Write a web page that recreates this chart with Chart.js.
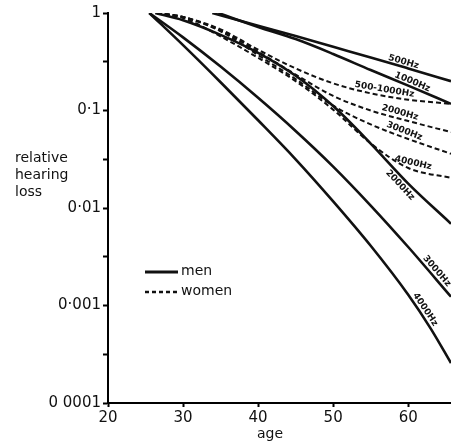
<!DOCTYPE html>
<html>
<head>
<meta charset="utf-8">
<script src="https://cdn.jsdelivr.net/npm/chart.js@4.4.1/dist/chart.umd.min.js"></script>
<style>
  html, body { margin: 0; padding: 0; background: #fff; }
  #wrap { position: relative; width: 451px; height: 443px; }
</style>
</head>
<body>
<div id="wrap"><canvas id="chart"></canvas></div>
<script>
// values: age (years) and relative hearing loss
const men500Ages = [33.9, 40, 45, 50, 55, 60, 65.7];
const men500Loss = [1, 0.74, 0.58, 0.45, 0.35, 0.27, 0.20];

const men1000Ages = [34.7, 40, 45, 50, 55, 60, 65.7];
const men1000Loss = [1, 0.72, 0.54, 0.38, 0.26, 0.18, 0.117];

const men2000Ages = [26.3, 30, 35, 40, 45, 50, 55, 60, 65.7];
const men2000Loss = [1, 0.843, 0.597, 0.390, 0.227, 0.111, 0.0458, 0.0178, 0.0069];

const men3000Ages = [25.5, 30, 35, 40, 45, 50, 55, 60, 65.7];
const men3000Loss = [1, 0.562, 0.282, 0.135, 0.0617, 0.0266, 0.0106, 0.00398, 0.00123];

const men4000Ages = [25.5, 30, 35, 40, 45, 50, 55, 60, 63, 65.7];
const men4000Loss = [1, 0.468, 0.195, 0.0794, 0.0316, 0.0117, 0.0041, 0.00129, 0.00058, 0.000257];

const womenAges = [26.5, 30, 35, 40, 45, 50, 55, 60, 65.7];
const women500to1000Loss = [1, 0.91, 0.68, 0.42, 0.27, 0.19, 0.15, 0.129, 0.117];
const women2000Loss = [1, 0.91, 0.66, 0.40, 0.234, 0.141, 0.10, 0.078, 0.060];
const women3000Loss = [1, 0.91, 0.65, 0.37, 0.21, 0.112, 0.072, 0.051, 0.036];
const women4000Loss = [1, 0.89, 0.575, 0.347, 0.20, 0.102, 0.046, 0.0257, 0.0204];

const xTickValues = [20, 30, 40, 50, 60];
const yTickValues = [1, 0.1, 0.01, 0.001, 0.0001];
const yTickLabels = ['1', '0·1', '0·01', '0·001', '0 0001'];

const INK = '#111';
const FONT = 'DejaVu Sans';

function pts(ages, loss) {
    return ages.map((a, i) => ({ x: a, y: loss[i] }));
}

function menSet(label, ages, loss) {
    return { label, data: pts(ages, loss), borderColor: INK, borderWidth: 2.6 };
}

function womenSet(label, ages, loss) {
    return { label, data: pts(ages, loss), borderColor: INK, borderWidth: 2, borderDash: [5, 3] };
}

const datasets = [
    menSet('men 500Hz', men500Ages, men500Loss),
    menSet('men 1000Hz', men1000Ages, men1000Loss),
    menSet('men 2000Hz', men2000Ages, men2000Loss),
    menSet('men 3000Hz', men3000Ages, men3000Loss),
    menSet('men 4000Hz', men4000Ages, men4000Loss),
    womenSet('women 500-1000Hz', womenAges, women500to1000Loss),
    womenSet('women 2000Hz', womenAges, women2000Loss),
    womenSet('women 3000Hz', womenAges, women3000Loss),
    womenSet('women 4000Hz', womenAges, women4000Loss)
];

// labels written along the curves: dataset, age, perpendicular offset
const curveLabels = [
    { text: '500Hz', ds: 0, age: 59.2, off: -5 },
    { text: '1000Hz', ds: 1, age: 60.3, off: -5 },
    { text: '500-1000Hz', ds: 5, age: 56.7, off: -6 },
    { text: '2000Hz', ds: 6, age: 58.7, off: -6 },
    { text: '3000Hz', ds: 7, age: 59.2, off: -6 },
    { text: '4000Hz', ds: 8, age: 60.5, off: -6 },
    { text: '2000Hz', ds: 2, age: 59.6, off: 7 },
    { text: '3000Hz', ds: 3, age: 63.2, off: -6 },
    { text: '4000Hz', ds: 4, age: 61.6, off: -6 }
];

function pointOnCurve(meta, xPix) {
    const p = meta.data;
    for (let i = 1; i < p.length; i++) {
        if (p[i].x >= xPix) {
            const a = p[i - 1], b = p[i];
            const t = (xPix - a.x) / (b.x - a.x);
            return { y: a.y + t * (b.y - a.y), angle: Math.atan2(b.y - a.y, b.x - a.x) };
        }
    }
    return null;
}

const annotations = {
    id: 'annotations',
    afterDatasetsDraw(chart) {
        const ctx = chart.ctx;
        const xs = chart.scales.x;
        ctx.save();
        ctx.fillStyle = INK;

        // curve labels
        ctx.font = `bold 9px ${FONT}`;
        ctx.textAlign = 'center';
        ctx.textBaseline = 'middle';
        curveLabels.forEach(l => {
            const meta = chart.getDatasetMeta(l.ds);
            const px = xs.getPixelForValue(l.age);
            const p = pointOnCurve(meta, px);
            if (!p) return;
            const nx = -Math.sin(p.angle), ny = Math.cos(p.angle);
            ctx.save();
            ctx.translate(px + nx * l.off, p.y + ny * l.off);
            ctx.rotate(p.angle);
            ctx.fillText(l.text, 0, 0);
            ctx.restore();
        });

        // legend
        ctx.strokeStyle = INK;
        ctx.lineWidth = 3;
        ctx.beginPath();
        ctx.moveTo(145, 272);
        ctx.lineTo(178, 272);
        ctx.stroke();
        ctx.lineWidth = 2.5;
        ctx.setLineDash([4, 3]);
        ctx.beginPath();
        ctx.moveTo(145, 292);
        ctx.lineTo(178, 292);
        ctx.stroke();
        ctx.setLineDash([]);
        ctx.font = `14px ${FONT}`;
        ctx.textAlign = 'left';
        ctx.fillText('men', 181, 271);
        ctx.fillText('women', 181, 291);

        // axis titles
        ctx.fillText('relative', 15, 158);
        ctx.fillText('hearing', 15, 175);
        ctx.fillText('loss', 15, 192);
        ctx.textAlign = 'center';
        ctx.fillText('age', 270, 434);
        ctx.restore();
    }
};

new Chart(document.getElementById('chart'), {
    type: 'line',
    data: { datasets },
    options: {
        responsive: true,
        maintainAspectRatio: false,
        animation: false,
        layout: { padding: { top: 13, right: 0, left: 0, bottom: 0 } },
        elements: {
            point: { radius: 0 },
            line: { cubicInterpolationMode: 'monotone', fill: false }
        },
        plugins: {
            legend: { display: false },
            tooltip: { enabled: false }
        },
        scales: {
            x: {
                type: 'linear',
                min: 20,
                max: 65.7,
                afterBuildTicks: s => { s.ticks = xTickValues.map(v => ({ value: v })); },
                afterFit: s => { s.height = 40; },
                border: { color: '#000', width: 2 },
                grid: { drawOnChartArea: false, tickLength: 4, tickWidth: 2, color: '#000' },
                ticks: { color: INK, padding: 2, maxRotation: 0, font: { family: FONT, size: 15 } }
            },
            y: {
                type: 'logarithmic',
                min: 0.0001,
                max: 1,
                afterBuildTicks: s => {
                    const t = [];
                    for (let i = yTickValues.length - 1; i >= 0; i--) {
                        t.push({ value: yTickValues[i] });
                        if (i > 0) t.push({ value: Math.sqrt(yTickValues[i] * yTickValues[i - 1]) });
                    }
                    s.ticks = t;
                },
                afterFit: s => { s.width = 108; },
                border: { color: '#000', width: 2 },
                grid: { drawOnChartArea: false, tickLength: 5, tickWidth: 2, color: '#000' },
                ticks: {
                    color: INK,
                    padding: 2,
                    autoSkip: false,
                    font: { family: FONT, size: 15 },
                    callback: v => {
                        const i = yTickValues.findIndex(d => Math.abs(Math.log10(d) - Math.log10(v)) < 1e-6);
                        return i >= 0 ? yTickLabels[i] : '';
                    }
                }
            }
        }
    },
    plugins: [annotations]
});
</script>
</body>
</html>
